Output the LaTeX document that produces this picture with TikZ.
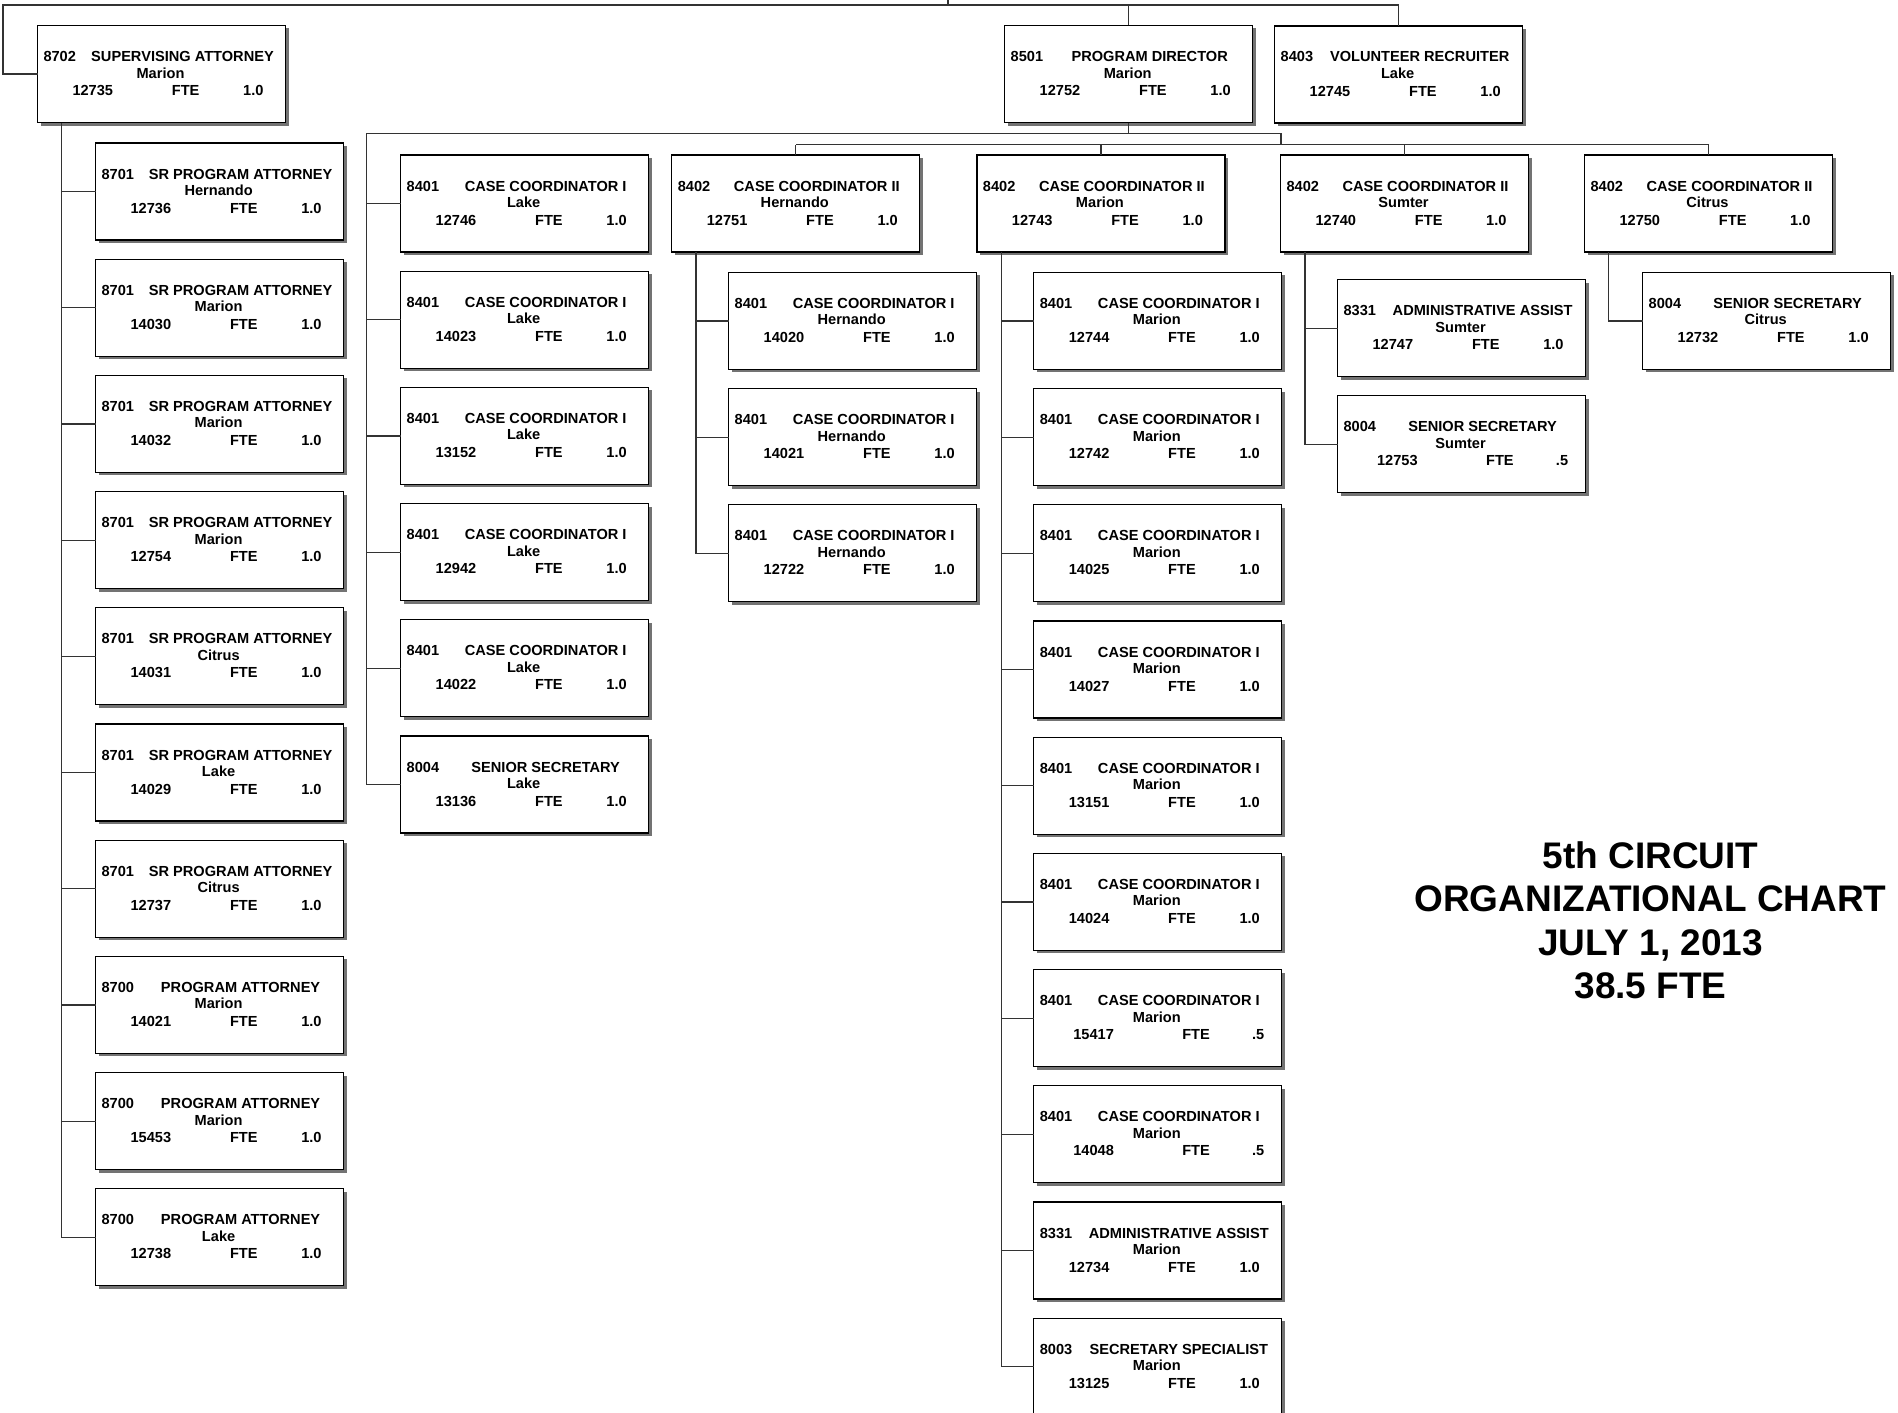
\documentclass[tikz,border=0pt]{standalone}
\usepackage{fontspec}
\setmainfont{Liberation Sans}
\usetikzlibrary{shadows}

\tikzset{
  orgbox/.style={draw=black, line width=1.3pt, fill=white,
    minimum width=248pt, minimum height=97pt, anchor=north west,
    inner sep=0pt, outer sep=0pt,
    drop shadow={shadow xshift=3pt, shadow yshift=-3pt, fill=black!55, opacity=1}},
  boxtxt/.style={inner sep=0pt, outer sep=0pt, font=\fontsize{14.6}{17}\selectfont\bfseries},
  link/.style={draw=black!80, line width=1.2pt},
  heading/.style={inner sep=0pt, outer sep=0pt, anchor=base,
    font=\fontsize{37}{43.6}\selectfont\bfseries},
}

% horizontal positions of the third text line (number, FTE, value)
\newcommand\ocNumX{35}
\newcommand\ocFteX{134.4}
\newcommand\ocValX{226}
\newcommand\ocfull{\def\ocNumX{35}\def\ocFteX{134.4}\def\ocValX{226}}
\newcommand\ochalf{\def\ocNumX{39.5}\def\ocFteX{148.5}\def\ocValX{230.5}}

% one position box: name, x, y (top left), code, title, county, number, FTE value
\newcommand\orgunit[8]{%
  \node[orgbox] (#1) at (#2,#3) {};
  \node[boxtxt, anchor=base west] (#1-code)  at ([shift={(6pt,-36pt)}]#1.north west) {#4};
  \node[boxtxt, anchor=base]      (#1-title) at ([shift={(145pt,-36pt)}]#1.north west) {#5};
  \node[boxtxt, anchor=base]      (#1-site)  at ([shift={(123pt,-52.5pt)}]#1.north west) {#6};
  \node[boxtxt, anchor=base west] (#1-pos)   at ([shift={(\ocNumX pt,-70pt)}]#1.north west) {#7};
  \node[boxtxt, anchor=base west] (#1-fte)   at ([shift={(\ocFteX pt,-70pt)}]#1.north west) {FTE};
  \node[boxtxt, anchor=base east] (#1-val)   at ([shift={(\ocValX pt,-70pt)}]#1.north west) {#8};
}

\begin{document}
\begin{tikzpicture}[x=1pt, y=-1pt]
\useasboundingbox (0,0) rectangle (1898,1413);
\clip (0,0) rectangle (1898,1413);
\fill[white] (0,0) rectangle (1898,1413);

% ---------- top level ----------
\ocfull
\orgunit{sup}{37.5}{25.5}{8702}{SUPERVISING ATTORNEY}{Marion}{12735}{1.0}
\orgunit{pd}{1004.7}{25.5}{8501}{PROGRAM DIRECTOR}{Marion}{12752}{1.0}
\orgunit{vr}{1274.7}{26}{8403}{VOLUNTEER RECRUITER}{Lake}{12745}{1.0}

% ---------- attorneys ----------
\orgunit{sr1}{95.6}{143}{8701}{SR PROGRAM ATTORNEY}{Hernando}{12736}{1.0}
\orgunit{sr2}{95.6}{259.2}{8701}{SR PROGRAM ATTORNEY}{Marion}{14030}{1.0}
\orgunit{sr3}{95.6}{375.4}{8701}{SR PROGRAM ATTORNEY}{Marion}{14032}{1.0}
\orgunit{sr4}{95.6}{491.6}{8701}{SR PROGRAM ATTORNEY}{Marion}{12754}{1.0}
\orgunit{sr5}{95.6}{607.8}{8701}{SR PROGRAM ATTORNEY}{Citrus}{14031}{1.0}
\orgunit{sr6}{95.6}{724}{8701}{SR PROGRAM ATTORNEY}{Lake}{14029}{1.0}
\orgunit{sr7}{95.6}{840.2}{8701}{SR PROGRAM ATTORNEY}{Citrus}{12737}{1.0}
\orgunit{sr8}{95.6}{956.4}{8700}{PROGRAM ATTORNEY}{Marion}{14021}{1.0}
\orgunit{sr9}{95.6}{1072.6}{8700}{PROGRAM ATTORNEY}{Marion}{15453}{1.0}
\orgunit{sr10}{95.6}{1188.8}{8700}{PROGRAM ATTORNEY}{Lake}{12738}{1.0}

% ---------- Lake staff ----------
\orgunit{lake1}{400.7}{155}{8401}{CASE COORDINATOR I}{Lake}{12746}{1.0}
\orgunit{lake2}{400.7}{271.2}{8401}{CASE COORDINATOR I}{Lake}{14023}{1.0}
\orgunit{lake3}{400.7}{387.4}{8401}{CASE COORDINATOR I}{Lake}{13152}{1.0}
\orgunit{lake4}{400.7}{503.6}{8401}{CASE COORDINATOR I}{Lake}{12942}{1.0}
\orgunit{lake5}{400.7}{619.8}{8401}{CASE COORDINATOR I}{Lake}{14022}{1.0}
\orgunit{lake6}{400.7}{736}{8004}{SENIOR SECRETARY}{Lake}{13136}{1.0}

% ---------- case coordinator II row ----------
\orgunit{ccH}{671.8}{155}{8402}{CASE COORDINATOR II}{Hernando}{12751}{1.0}
\orgunit{ccM}{976.9}{155}{8402}{CASE COORDINATOR II}{Marion}{12743}{1.0}
\orgunit{ccS}{1280.5}{155}{8402}{CASE COORDINATOR II}{Sumter}{12740}{1.0}
\orgunit{ccC}{1584.5}{155}{8402}{CASE COORDINATOR II}{Citrus}{12750}{1.0}

% ---------- Hernando ----------
\orgunit{hc1}{728.7}{272.4}{8401}{CASE COORDINATOR I}{Hernando}{14020}{1.0}
\orgunit{hc2}{728.7}{388.6}{8401}{CASE COORDINATOR I}{Hernando}{14021}{1.0}
\orgunit{hc3}{728.7}{504.8}{8401}{CASE COORDINATOR I}{Hernando}{12722}{1.0}

% ---------- Marion ----------
\orgunit{mc1}{1033.8}{272.4}{8401}{CASE COORDINATOR I}{Marion}{12744}{1.0}
\orgunit{mc2}{1033.8}{388.6}{8401}{CASE COORDINATOR I}{Marion}{12742}{1.0}
\orgunit{mc3}{1033.8}{504.8}{8401}{CASE COORDINATOR I}{Marion}{14025}{1.0}
\orgunit{mc4}{1033.8}{621}{8401}{CASE COORDINATOR I}{Marion}{14027}{1.0}
\orgunit{mc5}{1033.8}{737.2}{8401}{CASE COORDINATOR I}{Marion}{13151}{1.0}
\orgunit{mc6}{1033.8}{853.4}{8401}{CASE COORDINATOR I}{Marion}{14024}{1.0}
\ochalf
\orgunit{mc7}{1033.8}{969.6}{8401}{CASE COORDINATOR I}{Marion}{15417}{.5}
\orgunit{mc8}{1033.8}{1085.8}{8401}{CASE COORDINATOR I}{Marion}{14048}{.5}
\ocfull
\orgunit{mc9}{1033.8}{1202}{8331}{ADMINISTRATIVE ASSIST}{Marion}{12734}{1.0}
\orgunit{mc10}{1033.8}{1318.2}{8003}{SECRETARY SPECIALIST}{Marion}{13125}{1.0}

% ---------- Sumter ----------
\orgunit{sc1}{1337.6}{279.6}{8331}{ADMINISTRATIVE ASSIST}{Sumter}{12747}{1.0}
\ochalf
\orgunit{sc2}{1337.6}{395.8}{8004}{SENIOR SECRETARY}{Sumter}{12753}{.5}
\ocfull

% ---------- Citrus ----------
\orgunit{cc1}{1642.7}{272.4}{8004}{SENIOR SECRETARY}{Citrus}{12732}{1.0}

% ---------- connectors ----------
\coordinate (root) at (948,0);
\coordinate (busA) at (3,5);
\draw[link] (root) -- (root |- busA);
\draw[link] (sup.west) -| (busA) -- (busA -| vr.north) -- (vr.north);
\draw[link] (pd.north) -- (pd.north |- busA);

\coordinate (busB) at (366.8,133.5);
\coordinate (busC) at (1281,144.5);
\draw[link] (pd.south) -- (pd.south |- busB);
\draw[link] (lake6.west) -| (busB) -- (busB -| busC) -- (busC);
\draw[link] (ccH.north |- busC) -- (ccC.north |- busC);
\foreach \n in {ccH,ccM,ccS,ccC}
  \draw[link] (\n.north) -- (\n.north |- busC);
\foreach \k in {1,...,5}
  \draw[link] (lake\k.west) -- (lake\k.west -| busB);

\coordinate (supT) at ([xshift=24.2pt]sup.south west);
\draw[link] (supT) |- (sr10.west);
\foreach \k in {1,...,9}
  \draw[link] (sr\k.west) -- (sr\k.west -| supT);

\coordinate (hT) at ([xshift=24.2pt]ccH.south west);
\draw[link] (hT) |- (hc3.west);
\foreach \k in {1,2}
  \draw[link] (hc\k.west) -- (hc\k.west -| hT);

\coordinate (mT) at ([xshift=24.2pt]ccM.south west);
\draw[link] (mT) |- (mc10.west);
\foreach \k in {1,...,9}
  \draw[link] (mc\k.west) -- (mc\k.west -| mT);

\coordinate (sT) at ([xshift=24.5pt]ccS.south west);
\draw[link] (sT) |- (sc2.west);
\draw[link] (sc1.west) -- (sc1.west -| sT);

\coordinate (cT) at ([xshift=24.2pt]ccC.south west);
\draw[link] (cT) |- (cc1.west);

% ---------- heading ----------
\node[heading] (t1) at (1650.5,868) {5th CIRCUIT};
\node[heading] (t2) at (1650.5,911.5) {ORGANIZATIONAL CHART};
\node[heading] (t3) at (1650.5,955) {JULY 1, 2013};
\node[heading] (t4) at (1650.5,998.7) {38.5 FTE};
\end{tikzpicture}
\end{document}
